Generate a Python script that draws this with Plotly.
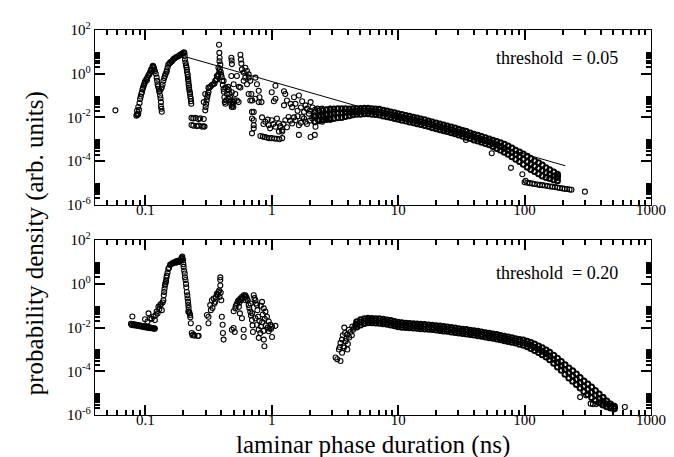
import numpy as np
import plotly.graph_objects as go

SERIF = "Liberation Serif"

# ---- upper panel: threshold = 0.05 ----
# (duration ns, probability density)
top_peaks = [
    (0.058, 2.1e-2),
    (0.085, 1.2e-2), (0.086, 1.4e-2), (0.087, 1.3e-2), (0.088, 1.5e-2), (0.086, 2.0e-2),
    (0.088, 3.0e-2), (0.089, 2.2e-2), (0.090, 4.5e-2), (0.091, 7.0e-2), (0.092, 9.0e-2),
    (0.093, 0.12), (0.094, 0.14), (0.095, 0.19), (0.096, 0.23), (0.097, 0.28), (0.098, 0.33),
    (0.099, 0.39), (0.100, 0.46), (0.102, 0.56), (0.103, 0.50), (0.104, 0.68), (0.106, 0.85),
    (0.107, 0.90), (0.108, 1.0), (0.109, 1.1), (0.110, 1.3), (0.111, 1.5), (0.112, 1.6),
    (0.114, 2.1), (0.115, 2.3), (0.116, 2.0),
    (0.117, 1.8), (0.118, 1.5), (0.119, 1.3), (0.121, 1.0), (0.123, 0.66), (0.124, 0.47),
    (0.125, 0.33), (0.126, 0.26), (0.128, 0.20), (0.129, 0.15), (0.131, 0.10), (0.132, 0.075),
    (0.133, 0.05), (0.133, 0.032), (0.134, 0.025), (0.135, 0.018),
    (0.130, 0.16), (0.133, 0.20), (0.135, 0.24), (0.137, 0.32), (0.139, 0.47), (0.141, 0.63),
    (0.143, 0.80), (0.145, 1.0), (0.147, 1.2), (0.148, 1.4), (0.150, 1.9), (0.152, 2.6),
    (0.155, 2.9), (0.157, 3.2), (0.160, 3.5), (0.162, 3.7), (0.165, 4.2), (0.168, 4.8),
    (0.172, 5.2), (0.175, 5.6), (0.178, 6.0), (0.183, 6.3), (0.186, 6.9), (0.190, 7.5),
    (0.194, 7.9), (0.198, 8.5), (0.202, 9.5), (0.204, 8.8),
    (0.205, 6.5), (0.206, 4.5), (0.208, 3.2), (0.210, 2.4), (0.212, 1.9), (0.213, 1.5),
    (0.214, 1.2), (0.216, 0.93), (0.217, 0.70), (0.218, 0.55), (0.219, 0.47), (0.220, 0.35),
    (0.221, 0.28), (0.222, 0.23), (0.223, 0.18), (0.225, 0.14), (0.226, 0.12), (0.227, 0.09),
    (0.229, 0.071), (0.230, 0.055), (0.231, 0.042),
    (0.232, 9.5e-3), (0.240, 9.0e-3), (0.250, 9.5e-3), (0.262, 8.5e-3), (0.272, 9.0e-3),
    (0.290, 8.5e-3), (0.232, 4.5e-3), (0.240, 4.2e-3), (0.255, 4.0e-3), (0.265, 4.2e-3),
    (0.280, 3.8e-3), (0.288, 3.9e-3), (0.294, 3.8e-3),
]

top_scatter = [
    (0.290, 5.0e-2), (0.298, 2.1e-2), (0.298, 0.117), (0.300, 3.0e-2), (0.303, 4.2e-2),
    (0.306, 6.0e-2), (0.309, 8.3e-2), (0.312, 0.11), (0.316, 0.14), (0.316, 0.23),
    (0.322, 0.23), (0.328, 0.26), (0.336, 0.30), (0.345, 0.33), (0.353, 0.36), (0.357, 0.47),
    (0.362, 0.50), (0.368, 0.56), (0.368, 0.79), (0.374, 0.75), (0.379, 0.93), (0.379, 1.86),
    (0.385, 1.3), (0.388, 1.6), (0.392, 2.6),
    (0.383, 21.0), (0.385, 9.0), (0.387, 5.4), (0.386, 3.7),
    (0.395, 1.2), (0.398, 0.90), (0.402, 0.70), (0.405, 0.47), (0.410, 0.30), (0.416, 0.47),
    (0.416, 0.20), (0.418, 0.15), (0.430, 0.23), (0.422, 0.083), (0.425, 0.05), (0.430, 0.042),
    (0.436, 0.06), (0.442, 0.117), (0.447, 0.20), (0.452, 0.25), (0.456, 0.071), (0.458, 0.18),
    (0.462, 0.12), (0.468, 0.083), (0.472, 0.06), (0.478, 0.042), (0.483, 0.03), (0.490, 0.035),
    (0.497, 0.05), (0.505, 0.06), (0.484, 0.141), (0.500, 0.331), (0.515, 0.117), (0.531, 0.059),
    (0.547, 0.05), (0.490, 0.042), (0.497, 0.03),
    (0.479, 5.4), (0.482, 4.0), (0.484, 2.75), (0.479, 0.79), (0.530, 0.79), (0.550, 0.25),
    (0.565, 7.4), (0.570, 4.5), (0.575, 2.9), (0.581, 1.58), (0.600, 1.12), (0.618, 1.86),
    (0.637, 1.32), (0.657, 0.93), (0.565, 0.234), (0.600, 0.47), (0.618, 0.66), (0.637, 0.33),
    (0.657, 0.66), (0.677, 0.47), (0.690, 0.117), (0.700, 0.059), (0.743, 0.66), (0.764, 0.33),
    (0.789, 0.166), (0.800, 0.083), (0.830, 0.05),
    (0.657, 0.117), (0.677, 0.059), (0.743, 0.071), (0.789, 0.05),
    (0.698, 1.78e-2), (0.720, 1.78e-2), (0.698, 8.9e-3), (0.720, 4.37e-3), (0.698, 1.86e-3),
    (0.720, 3.16e-3), (0.720, 7.41e-3),
    (0.838, 1.0e-2), (0.891, 6.31e-3), (0.947, 4.37e-3), (1.00, 7.41e-3), (1.07, 3.72e-3),
    (1.14, 5.25e-3), (1.21, 2.63e-3), (1.28, 7.41e-3), (1.36, 1.05e-2), (1.45, 5.25e-3),
    (1.54, 7.41e-3), (1.64, 4.37e-3), (1.74, 1.05e-2), (1.85, 6.31e-3), (1.97, 1.48e-2),
    (2.09, 8.91e-3), (2.22, 3.72e-3), (2.36, 1.26e-2), (2.51, 6.31e-3), (2.66, 1.48e-2),
    (2.83, 8.91e-3), (3.10, 1.78e-2),
    (0.813, 1.41e-3), (0.850, 1.32e-3), (0.880, 1.26e-3), (0.910, 1.20e-3), (0.950, 1.12e-3),
    (1.00, 1.12e-3), (1.05, 1.07e-3), (1.10, 1.05e-3), (1.15, 1.0e-3), (1.21, 1.12e-3),
    (1.14, 2.24e-3), (1.21, 2.24e-3), (1.64, 1.58e-3), (2.03, 1.26e-3), (2.19, 1.58e-3),
    (1.00, 0.141), (1.04, 0.055), (1.07, 0.282), (1.25, 0.158), (1.28, 0.117), (1.64, 0.10),
    (2.03, 0.05), (1.45, 0.0295), (1.54, 0.0417), (1.74, 0.055), (1.85, 0.0355), (1.50, 0.083),
    (1.41, 0.0417), (1.32, 0.059), (1.25, 0.0355), (1.07, 0.071),
    (0.86, 5.0e-3), (0.93, 7.94e-3), (0.97, 3.16e-3), (1.03, 5.0e-3), (1.10, 8.91e-3),
    (1.17, 3.98e-3), (1.24, 5.0e-3), (1.32, 3.55e-3), (1.40, 7.08e-3), (1.50, 1.0e-2),
    (1.60, 1.12e-2), (1.70, 5.62e-3), (1.80, 8.91e-3), (1.90, 5.0e-3), (2.00, 7.08e-3),
    (2.15, 1.12e-2), (2.30, 7.94e-3), (2.45, 1.12e-2), (2.60, 7.94e-3), (2.75, 1.26e-2),
    (2.90, 7.94e-3),
    (1.60, 2.0e-2), (1.70, 2.82e-2), (1.80, 1.78e-2), (1.90, 2.51e-2), (2.00, 2.0e-2),
    (2.10, 2.82e-2), (2.20, 2.24e-2), (2.30, 2.51e-2), (2.50, 2.51e-2), (2.70, 2.24e-2),
    (2.90, 2.51e-2),
    (34.4, 9.3e-4), (34.0, 2.45e-3), (57.0, 7.1e-4), (55.0, 2.3e-4), (78.0, 4.9e-5),
    (96.0, 2.5e-5), (102.0, 1.26e-5), (184.0, 2.1e-5), (300.0, 4.0e-6),
]

top_band_t = [2.2, 2.36, 2.53, 2.71, 2.9, 3.1, 3.33, 3.57, 3.82, 4.1,
              4.39, 4.7, 5.04, 5.4, 5.78, 6.2, 6.64, 7.1, 7.62, 8.17,
              8.75, 9.37, 10.0, 10.7, 11.5, 12.3, 13.2, 14.1, 15.1, 16.2,
              17.4, 18.6, 20.0, 21.4, 22.9, 24.5, 26.3, 28.2, 30.2, 32.4,
              34.7, 37.2, 39.8, 42.7, 45.7, 49.0, 52.5, 56.2, 60.3, 64.6,
              69.2, 74.1, 79.4, 85.1, 91.2, 97.7, 105, 112, 120, 129,
              138, 148, 158, 170, 182]
top_band_hi = [1.78e-2, 2.0e-2, 2.09e-2, 2.24e-2, 2.34e-2, 2.4e-2, 2.51e-2, 2.51e-2, 2.51e-2, 2.45e-2,
               2.51e-2, 2.51e-2, 2.57e-2, 2.63e-2, 2.63e-2, 2.51e-2, 2.45e-2, 2.34e-2, 2.14e-2, 1.95e-2,
               1.78e-2, 1.62e-2, 1.48e-2, 1.35e-2, 1.23e-2, 1.12e-2, 1.02e-2, 9.33e-3, 8.51e-3, 7.76e-3,
               6.92e-3, 6.17e-3, 5.5e-3, 5.01e-3, 4.47e-3, 4.07e-3, 3.63e-3, 3.24e-3, 2.88e-3, 2.51e-3,
               2.24e-3, 1.95e-3, 1.7e-3, 1.51e-3, 1.32e-3, 1.17e-3, 1.02e-3, 8.91e-4, 7.94e-4, 6.92e-4,
               5.89e-4, 4.9e-4, 3.98e-4, 3.16e-4, 2.63e-4, 2.09e-4, 1.66e-4, 1.32e-4, 1.05e-4, 8.32e-5,
               6.61e-5, 5.01e-5, 3.98e-5, 3.16e-5, 2.51e-5]
top_band_mid = [1.12e-2, 1.2e-2, 1.26e-2, 1.35e-2, 1.41e-2, 1.48e-2, 1.58e-2, 1.62e-2, 1.7e-2, 1.74e-2,
                1.82e-2, 1.86e-2, 1.91e-2, 1.95e-2, 1.95e-2, 1.91e-2, 1.82e-2, 1.74e-2, 1.58e-2, 1.45e-2,
                1.32e-2, 1.2e-2, 1.1e-2, 1.0e-2, 9.12e-3, 8.32e-3, 7.59e-3, 6.92e-3, 6.31e-3, 5.75e-3,
                5.13e-3, 4.57e-3, 4.07e-3, 3.72e-3, 3.31e-3, 3.02e-3, 2.69e-3, 2.4e-3, 2.14e-3, 1.86e-3,
                1.66e-3, 1.45e-3, 1.26e-3, 1.12e-3, 9.77e-4, 8.71e-4, 7.59e-4, 6.46e-4, 5.5e-4, 4.68e-4,
                3.89e-4, 3.16e-4, 2.51e-4, 2.0e-4, 1.58e-4, 1.2e-4, 9.33e-5, 7.41e-5, 5.89e-5, 4.68e-5,
                3.72e-5, 3.02e-5, 2.51e-5, 2.09e-5, 1.78e-5]
top_band_lo = [6.31e-3, 7.08e-3, 7.59e-3, 7.94e-3, 8.32e-3, 8.91e-3, 9.55e-3, 1.0e-2, 1.1e-2, 1.2e-2,
               1.32e-2, 1.38e-2, 1.41e-2, 1.45e-2, 1.45e-2, 1.41e-2, 1.35e-2, 1.29e-2, 1.17e-2, 1.07e-2,
               9.77e-3, 8.91e-3, 8.13e-3, 7.41e-3, 6.76e-3, 6.17e-3, 5.62e-3, 5.13e-3, 4.68e-3, 4.27e-3,
               3.8e-3, 3.39e-3, 3.02e-3, 2.75e-3, 2.45e-3, 2.24e-3, 2.0e-3, 1.78e-3, 1.58e-3, 1.38e-3,
               1.23e-3, 1.07e-3, 9.33e-4, 8.32e-4, 7.24e-4, 6.46e-4, 5.62e-4, 4.68e-4, 3.8e-4, 3.16e-4,
               2.57e-4, 2.04e-4, 1.58e-4, 1.2e-4, 9.55e-5, 7.08e-5, 5.25e-5, 4.17e-5, 3.31e-5, 2.63e-5,
               2.09e-5, 1.78e-5, 1.58e-5, 1.41e-5, 1.26e-5]

top_tail_t = [100, 105, 110, 115, 120, 126, 132, 138, 145, 152,
              159, 166, 174, 182, 190, 199, 208, 217, 227, 235]
top_tail_p = [1.07e-5, 1.02e-5, 9.77e-6, 9.33e-6, 8.91e-6, 8.51e-6, 8.13e-6, 7.94e-6, 7.59e-6, 7.24e-6,
              6.92e-6, 6.76e-6, 6.46e-6, 6.17e-6, 5.89e-6, 5.62e-6, 5.37e-6, 5.25e-6, 5.01e-6, 4.9e-6]

# power-law guide line in the upper panel
fit_t = [0.207, 210]
fit_p = [6.0, 6.1e-5]

# ---- lower panel: threshold = 0.20 ----
bot_left = [
    (0.077, 1.5e-2), (0.079, 1.45e-2), (0.081, 1.4e-2), (0.083, 1.38e-2), (0.085, 1.35e-2),
    (0.087, 1.3e-2), (0.089, 1.28e-2), (0.091, 1.25e-2), (0.093, 1.2e-2), (0.095, 1.18e-2),
    (0.097, 1.15e-2), (0.099, 1.12e-2), (0.101, 1.1e-2), (0.103, 1.07e-2), (0.105, 1.05e-2),
    (0.107, 1.02e-2), (0.109, 1.0e-2), (0.111, 9.8e-3), (0.113, 9.6e-3), (0.115, 9.5e-3),
    (0.117, 9.3e-3), (0.119, 9.1e-3), (0.078, 1.3e-2), (0.082, 1.25e-2), (0.086, 1.2e-2),
    (0.090, 1.15e-2), (0.094, 1.1e-2), (0.098, 1.05e-2), (0.102, 1.0e-2), (0.106, 9.7e-3),
    (0.110, 9.4e-3), (0.114, 9.1e-3), (0.118, 8.8e-3), (0.079, 3.2e-2),
    (0.0995, 2.4e-2), (0.104, 1.9e-2), (0.106, 4.5e-2), (0.109, 2.7e-2), (0.112, 2.5e-2),
    (0.116, 3.2e-2), (0.119, 2.2e-2), (0.121, 3.8e-2), (0.123, 5.4e-2), (0.125, 4.4e-2),
    (0.127, 8.9e-2), (0.129, 7.0e-2), (0.131, 0.107), (0.133, 0.12), (0.135, 6.3e-2),
    (0.137, 0.14), (0.139, 0.178), (0.140, 0.30), (0.141, 0.427), (0.142, 0.60), (0.143, 0.851),
    (0.144, 1.0), (0.145, 1.2), (0.146, 1.41), (0.147, 1.9), (0.148, 2.4), (0.150, 3.2),
    (0.152, 4.79), (0.154, 5.5), (0.157, 7.41), (0.160, 8.0), (0.163, 8.5), (0.165, 9.0),
    (0.167, 9.55), (0.170, 9.5), (0.173, 10.0), (0.175, 9.3), (0.177, 11.2), (0.180, 10.5),
    (0.183, 11.0), (0.185, 10.0), (0.186, 12.0), (0.190, 11.5), (0.192, 13.5), (0.194, 15.8),
    (0.196, 17.8), (0.197, 14.0), (0.199, 12.0), (0.200, 7.94), (0.201, 6.0), (0.203, 3.98),
    (0.205, 3.0), (0.206, 2.0), (0.208, 1.5), (0.210, 1.0), (0.211, 0.70), (0.213, 0.427),
    (0.215, 0.30), (0.216, 0.214), (0.218, 0.15), (0.219, 0.107), (0.220, 0.08), (0.219, 0.0537),
    (0.222, 0.055), (0.224, 0.045), (0.226, 0.038), (0.227, 0.03), (0.229, 0.0158),
    (0.233, 5.62e-3), (0.236, 4.5e-3), (0.240, 4.79e-3), (0.245, 4.3e-3), (0.260, 4.1e-3),
    (0.264, 9.55e-3), (0.264, 4.27e-3),
]

bot_mid = [
    (0.307, 3.8e-2), (0.316, 3.16e-2), (0.316, 1.58e-2), (0.326, 0.107), (0.330, 6.3e-2),
    (0.336, 0.178), (0.340, 7.9e-2), (0.347, 0.214), (0.352, 0.126), (0.357, 0.151),
    (0.362, 0.25), (0.368, 0.355), (0.374, 0.316), (0.379, 0.427), (0.384, 0.50), (0.387, 0.251),
    (0.392, 0.851), (0.392, 2.0), (0.392, 1.51), (0.395, 0.40), (0.399, 0.178), (0.403, 3.16e-2),
    (0.409, 1.35e-2), (0.411, 5.62e-3), (0.416, 2.82e-3),
    (0.484, 7.94e-3), (0.499, 9.55e-3), (0.500, 5.62e-2), (0.510, 6.31e-3), (0.515, 7.59e-2),
    (0.520, 0.10), (0.531, 0.126), (0.540, 0.158), (0.547, 0.178), (0.550, 8.91e-2),
    (0.555, 0.141), (0.560, 4.47e-2), (0.565, 0.214), (0.570, 0.178), (0.581, 0.251),
    (0.581, 2.69e-2), (0.590, 0.224), (0.600, 0.302), (0.600, 7.94e-3), (0.600, 3.72e-3),
    (0.610, 0.251), (0.618, 0.302), (0.620, 0.178), (0.625, 0.263), (0.637, 0.214),
    (0.645, 0.178), (0.657, 0.107), (0.665, 7.94e-2), (0.677, 5.37e-2), (0.680, 0.126),
    (0.685, 3.55e-2), (0.698, 2.24e-2), (0.700, 4.47e-2), (0.705, 1.26e-2), (0.710, 6.31e-3),
    (0.720, 0.302), (0.730, 0.224), (0.743, 0.178), (0.743, 2.69e-2), (0.750, 0.126),
    (0.764, 0.107), (0.764, 1.35e-2), (0.770, 6.31e-2), (0.780, 3.16e-2), (0.789, 7.94e-3),
    (0.789, 3.39e-3), (0.800, 2.0e-2), (0.813, 5.62e-3), (0.820, 1.12e-2), (0.820, 0.10),
    (0.838, 0.151), (0.840, 1.78e-2), (0.850, 3.98e-2), (0.860, 7.08e-3), (0.865, 7.59e-2),
    (0.865, 2.82e-3), (0.875, 1.41e-3), (0.880, 2.51e-2), (0.891, 5.37e-2), (0.900, 1.26e-2),
    (0.918, 3.16e-2), (0.930, 1.0e-2), (0.947, 1.91e-2), (0.947, 6.76e-3), (0.960, 8.91e-3),
    (0.977, 1.35e-2), (0.990, 8.91e-3), (1.005, 1.12e-2), (1.005, 3.72e-3), (1.07, 1.2e-2),
]

bot_rise = [
    (3.2, 4.27e-4), (3.3, 3.55e-4), (3.4, 1.0e-3), (3.45, 1.26e-3), (3.5, 2.95e-4),
    (3.5, 2.0e-3), (3.6, 7.08e-4), (3.6, 2.82e-3), (3.65, 4.47e-3), (3.7, 1.41e-3),
    (3.72, 1.2e-3), (3.75, 1.0e-2), (3.8, 5.62e-3), (3.84, 2.4e-3), (3.9, 3.16e-3),
    (3.96, 4.79e-3), (3.96, 1.0e-3), (4.0, 1.78e-3), (4.08, 7.94e-3), (4.1, 3.55e-3),
    (4.2, 6.31e-3), (4.3, 4.47e-3), (4.34, 1.12e-2), (4.4, 7.94e-3), (4.5, 1.0e-2),
    (4.6, 1.35e-2),
    (257, 2.63e-5), (275, 6.61e-6), (307, 7.94e-6), (333, 3.31e-6), (347, 3.16e-6),
    (369, 3.16e-6), (405, 3.31e-6), (420, 6.61e-6), (621, 2.34e-6),
]

bot_band_t = [4.7, 5.04, 5.4, 5.78, 6.2, 6.64, 7.1, 7.62, 8.17, 8.75,
              9.37, 10.0, 10.7, 11.5, 12.3, 13.2, 14.1, 15.1, 16.2, 17.4,
              18.6, 20.0, 21.4, 22.9, 24.5, 26.3, 28.2, 30.2, 32.4, 34.7,
              37.2, 39.8, 42.7, 45.7, 49.0, 52.5, 56.2, 60.3, 64.6, 69.2,
              74.1, 79.4, 85.1, 91.2, 97.7, 105, 112, 120, 129, 138,
              148, 158, 170, 182, 195, 209, 224, 240, 257, 275,
              295, 316, 339, 363, 389, 417, 447, 479, 513]
bot_band_hi = [1.86e-2, 2.29e-2, 2.57e-2, 2.69e-2, 2.63e-2, 2.57e-2, 2.51e-2, 2.4e-2, 2.24e-2, 2.09e-2,
               1.91e-2, 1.74e-2, 1.66e-2, 1.58e-2, 1.55e-2, 1.51e-2, 1.48e-2, 1.41e-2, 1.38e-2, 1.32e-2,
               1.29e-2, 1.23e-2, 1.17e-2, 1.12e-2, 1.07e-2, 1.0e-2, 9.55e-3, 8.91e-3, 8.51e-3, 8.13e-3,
               7.59e-3, 7.24e-3, 6.76e-3, 6.31e-3, 5.89e-3, 5.5e-3, 5.13e-3, 4.79e-3, 4.37e-3, 3.98e-3,
               3.72e-3, 3.39e-3, 3.09e-3, 2.88e-3, 2.69e-3, 2.4e-3, 2.09e-3, 1.78e-3, 1.45e-3, 1.2e-3,
               9.55e-4, 7.41e-4, 5.37e-4, 3.98e-4, 2.82e-4, 2.0e-4, 1.41e-4, 1.05e-4, 7.59e-5, 5.25e-5,
               3.63e-5, 2.63e-5, 1.91e-5, 1.32e-5, 9.12e-6, 6.31e-6, 4.37e-6, 3.16e-6, 2.51e-6]
bot_band_mid = [1.41e-2, 1.74e-2, 2.0e-2, 2.14e-2, 2.09e-2, 2.04e-2, 2.0e-2, 1.91e-2, 1.78e-2, 1.66e-2,
                1.51e-2, 1.38e-2, 1.32e-2, 1.26e-2, 1.23e-2, 1.2e-2, 1.17e-2, 1.12e-2, 1.1e-2, 1.05e-2,
                1.02e-2, 9.77e-3, 9.33e-3, 8.91e-3, 8.51e-3, 7.94e-3, 7.59e-3, 7.08e-3, 6.76e-3, 6.46e-3,
                6.03e-3, 5.75e-3, 5.37e-3, 5.01e-3, 4.68e-3, 4.37e-3, 4.07e-3, 3.8e-3, 3.47e-3, 3.16e-3,
                2.95e-3, 2.69e-3, 2.45e-3, 2.24e-3, 2.04e-3, 1.78e-3, 1.51e-3, 1.26e-3, 1.02e-3, 8.32e-4,
                6.61e-4, 5.01e-4, 3.55e-4, 2.51e-4, 1.78e-4, 1.2e-4, 8.32e-5, 6.03e-5, 4.37e-5, 3.02e-5,
                2.09e-5, 1.51e-5, 1.1e-5, 7.94e-6, 5.75e-6, 4.27e-6, 3.16e-6, 2.51e-6, 2.09e-6]
bot_band_lo = [1.07e-2, 1.32e-2, 1.55e-2, 1.66e-2, 1.66e-2, 1.62e-2, 1.58e-2, 1.51e-2, 1.41e-2, 1.32e-2,
               1.2e-2, 1.1e-2, 1.05e-2, 1.0e-2, 9.77e-3, 9.55e-3, 9.33e-3, 8.91e-3, 8.71e-3, 8.32e-3,
               8.13e-3, 7.76e-3, 7.41e-3, 7.08e-3, 6.76e-3, 6.31e-3, 6.03e-3, 5.62e-3, 5.37e-3, 5.13e-3,
               4.79e-3, 4.57e-3, 4.27e-3, 3.98e-3, 3.72e-3, 3.47e-3, 3.24e-3, 3.02e-3, 2.75e-3, 2.51e-3,
               2.34e-3, 2.14e-3, 1.95e-3, 1.74e-3, 1.55e-3, 1.32e-3, 1.1e-3, 8.91e-4, 7.24e-4, 5.75e-4,
               4.57e-4, 3.39e-4, 2.34e-4, 1.58e-4, 1.12e-4, 7.24e-5, 4.9e-5, 3.47e-5, 2.51e-5, 1.74e-5,
               1.2e-5, 8.71e-6, 6.31e-6, 4.79e-6, 3.63e-6, 2.88e-6, 2.4e-6, 2.09e-6, 1.91e-6]

# axis ticks
x_ticks = [0.1, 1, 10, 100, 1000]
x_tick_text = ["0.1", "1", "10", "100", "1000"]
y_ticks = [1e-6, 1e-4, 1e-2, 1, 100]
y_tick_text = ["10<sup>-6</sup>", "10<sup>-4</sup>", "10<sup>-2</sup>", "10<sup>0</sup>", "10<sup>2</sup>"]
x_minor = [m * 10.0 ** k for k in range(-2, 3) for m in range(2, 10) if 0.04 < m * 10.0 ** k < 1000]
y_minor = [m * 10.0 ** k for k in (-6, -4, -2, 0) for m in range(2, 10)]

X_RANGE = [np.log10(0.04), 3]
Y_RANGE = [-6, 2]


def unzip(*pair_lists):
    t, p = [], []
    for pairs in pair_lists:
        t += [a for a, _ in pairs]
        p += [b for _, b in pairs]
    return t, p


top_t, top_p = unzip(top_peaks, top_scatter)
top_t += top_tail_t
top_p += top_tail_p
bot_t, bot_p = unzip(bot_left, bot_mid, bot_rise)

top_bt = top_band_t * 3
top_bp = top_band_hi + top_band_mid + top_band_lo
bot_bt = bot_band_t * 3
bot_bp = bot_band_hi + bot_band_mid + bot_band_lo

marker = dict(symbol="circle-open", size=5, color="black", line=dict(width=1.1, color="black"))
band_marker = dict(symbol="circle-open", size=5, color="black", line=dict(width=2.0, color="black"))

fig = go.Figure()
fig.add_trace(go.Scatter(x=top_t, y=top_p, mode="markers", marker=marker, xaxis="x", yaxis="y"))
fig.add_trace(go.Scatter(x=top_bt, y=top_bp, mode="markers", marker=band_marker, xaxis="x", yaxis="y"))
fig.add_trace(go.Scatter(x=fit_t, y=fit_p, mode="lines", line=dict(color="black", width=1),
                         xaxis="x", yaxis="y"))
fig.add_trace(go.Scatter(x=bot_t, y=bot_p, mode="markers", marker=marker, xaxis="x2", yaxis="y2"))
fig.add_trace(go.Scatter(x=bot_bt, y=bot_bp, mode="markers", marker=band_marker, xaxis="x2", yaxis="y2"))


def axis(tickvals, ticktext, minor_vals, **kw):
    return dict(showline=True, linewidth=1.3, linecolor="black", mirror="ticks",
                ticks="inside", ticklen=10, tickwidth=1.6, tickcolor="#000000",
                showgrid=False, zeroline=False, tickmode="array", type="log",
                tickvals=tickvals, ticktext=ticktext,
                tickfont=dict(family=SERIF, size=15, color="black"),
                minor=dict(tickvals=minor_vals, ticks="inside", ticklen=5,
                           tickwidth=1.6, tickcolor="#000000"), **kw)


fig.update_layout(
    width=674, height=457,
    margin=dict(l=87, r=31, t=15, b=50),
    paper_bgcolor="white", plot_bgcolor="white",
    showlegend=False,
    xaxis=axis(x_ticks, x_tick_text, x_minor, range=X_RANGE, anchor="y", ticklabelstandoff=-9),
    yaxis=axis(y_ticks, y_tick_text, y_minor, range=Y_RANGE, anchor="x", domain=[0.546, 1.0]),
    xaxis2=axis(x_ticks, x_tick_text, x_minor, range=X_RANGE, anchor="y2", ticklabelstandoff=-9),
    yaxis2=axis(y_ticks, y_tick_text, y_minor, range=Y_RANGE, anchor="x2", domain=[0.0, 0.454]),
    annotations=[
        dict(text="threshold\u00a0 = 0.05", xref="x domain", yref="y domain", x=0.945, y=0.837,
             xanchor="right", yanchor="middle", showarrow=False,
             font=dict(family=SERIF, size=18, color="black")),
        dict(text="threshold\u00a0 = 0.20", xref="x2 domain", yref="y2 domain", x=0.945, y=0.815,
             xanchor="right", yanchor="middle", showarrow=False,
             font=dict(family=SERIF, size=18, color="black")),
        dict(text="probability density (arb. units)", xref="paper", yref="paper",
             x=-0.108, y=0.446, textangle=-90, showarrow=False,
             xanchor="center", yanchor="middle",
             font=dict(family=SERIF, size=25, color="black")),
        dict(text="laminar phase duration (ns)", xref="paper", yref="paper",
             x=0.5, y=-0.078, showarrow=False, xanchor="center", yanchor="middle",
             font=dict(family=SERIF, size=25, color="black")),
    ],
)

fig.write_html("out.html")
